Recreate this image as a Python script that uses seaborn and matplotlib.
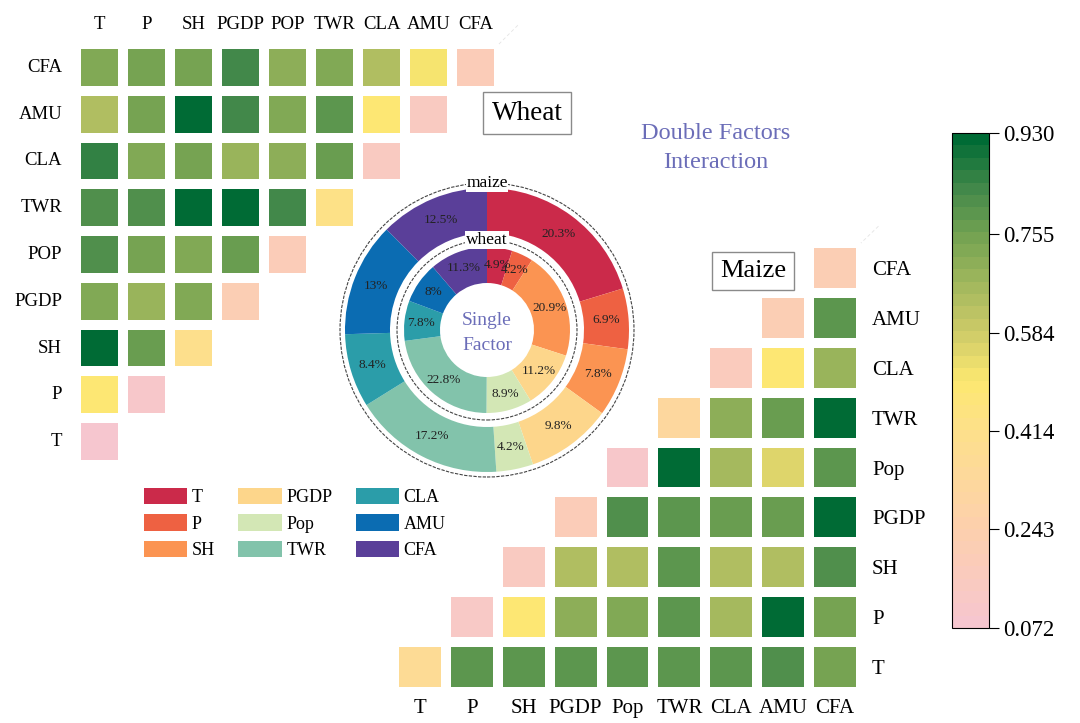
import numpy as np
import pandas as pd
import matplotlib
matplotlib.use('Agg')
import matplotlib.pyplot as plt
import seaborn as sns
from matplotlib.colors import LinearSegmentedColormap, Normalize
from matplotlib.patches import Patch, Circle

# ---- data ----
factors = ['T', 'P', 'SH', 'PGDP', 'POP', 'TWR', 'CLA', 'AMU', 'CFA']
factors_maize = ['T', 'P', 'SH', 'PGDP', 'Pop', 'TWR', 'CLA', 'AMU', 'CFA']
legend_names = ['T', 'P', 'SH', 'PGDP', 'Pop', 'TWR', 'CLA', 'AMU', 'CFA']

# wheat interaction q, rows top->bottom (CFA ... T), columns T ... up to diagonal
wheat_q = [
    [0.72, 0.74, 0.74, 0.84, 0.70, 0.72, 0.65, 0.52, 0.20],  # CFA
    [0.64, 0.74, 0.93, 0.84, 0.72, 0.78, 0.48, 0.14],        # AMU
    [0.86, 0.72, 0.74, 0.68, 0.70, 0.76, 0.14],              # CLA
    [0.82, 0.82, 0.92, 0.93, 0.84, 0.42],                    # TWR
    [0.82, 0.74, 0.72, 0.76, 0.20],                          # POP
    [0.72, 0.68, 0.72, 0.22],                                # PGDP
    [0.93, 0.76, 0.40],                                      # SH
    [0.50, 0.10],                                            # P
    [0.09],                                                  # T
]

# maize interaction q, rows top->bottom (CFA ... T), columns from diagonal ... CFA
maize_q = [
    [0.22],                                                  # CFA
    [0.22, 0.80],                                            # AMU
    [0.16, 0.50, 0.68],                                      # CLA
    [0.32, 0.70, 0.76, 0.92],                                # TWR
    [0.10, 0.93, 0.67, 0.55, 0.78],                          # Pop
    [0.20, 0.82, 0.80, 0.76, 0.76, 0.93],                    # PGDP
    [0.14, 0.64, 0.64, 0.80, 0.64, 0.64, 0.82],              # SH
    [0.12, 0.48, 0.70, 0.72, 0.80, 0.66, 0.92, 0.74],        # P
    [0.37, 0.80, 0.78, 0.80, 0.78, 0.78, 0.80, 0.82, 0.74],  # T
]

# single factor shares (%)
wheat_single = [4.9, 4.2, 20.9, 11.2, 8.9, 22.8, 7.8, 8, 11.3]
maize_single = [20.3, 6.9, 7.8, 9.8, 4.2, 17.2, 8.4, 13, 12.5]

factor_colors = ['#cb2a4a', '#ee6142', '#fb9452', '#fdd68b', '#d3e7b5',
                 '#82c3ab', '#2b9da9', '#0b6cb2', '#5a3f99']

cbar_ticks = [0.930, 0.755, 0.584, 0.414, 0.243, 0.072]
vmin, vmax = 0.072, 0.930

# ---- colormap ----
cmap_nodes = [0.072, 0.243, 0.414, 0.50, 0.584, 0.67, 0.755, 0.84, 0.93]
cmap_cols = ['#f6c6cf', '#fdd0ac', '#fde08a', '#fde870', '#cfcc68',
             '#a3b85e', '#75a352', '#44894a', '#006b35']
pos = [(v - vmin) / (vmax - vmin) for v in cmap_nodes]
cmap = LinearSegmentedColormap.from_list('q', list(zip(pos, cmap_cols)), N=40)

plt.rcParams['font.family'] = ['Liberation Serif', 'DejaVu Serif']

fig = plt.figure(figsize=(10.8, 7.23), dpi=100)
W, H = 1080, 723


def px_axes(x0, y0, w, h):
    return fig.add_axes([x0 / W, 1 - (y0 + h) / H, w / W, h / H])


# ---- wheat heatmap ----
wheat_rows = factors[::-1]
wheat_mat = np.full((9, 9), np.nan)
for i, row in enumerate(wheat_q):
    wheat_mat[i, :len(row)] = row
wheat_df = pd.DataFrame(wheat_mat, index=wheat_rows, columns=factors)

ax_w = px_axes(76, 44, 423, 421)
sns.heatmap(wheat_df, ax=ax_w, cmap=cmap, vmin=vmin, vmax=vmax, cbar=False,
            linewidths=5.8, linecolor='white')
ax_w.xaxis.tick_top()
ax_w.tick_params(length=0, labelsize=13.5)
ax_w.tick_params(axis='x', pad=8)
ax_w.tick_params(axis='y', pad=10)
ax_w.set_xticklabels(factors, rotation=0)
ax_w.set_yticklabels(wheat_rows, rotation=0)
ax_w.set_xlabel('')
ax_w.set_ylabel('')
ax_w.plot([9.4, 1.0], [-0.4, 8.0], ls=(0, (4, 3)), color='#e4e4e4', lw=0.6,
          clip_on=False, zorder=0)

# ---- maize heatmap ----
maize_rows = factors_maize[::-1]
maize_mat = np.full((9, 9), np.nan)
for i, row in enumerate(maize_q):
    maize_mat[i, 9 - len(row):] = row
maize_df = pd.DataFrame(maize_mat, index=maize_rows, columns=factors_maize)

ax_m = px_axes(394, 243, 467, 449)
sns.heatmap(maize_df, ax=ax_m, cmap=cmap, vmin=vmin, vmax=vmax, cbar=False,
            linewidths=6, linecolor='white')
ax_m.yaxis.tick_right()
ax_m.tick_params(length=0, labelsize=15)
ax_m.tick_params(axis='x', pad=5)
ax_m.tick_params(axis='y', pad=8)
ax_m.set_xticklabels(factors_maize, rotation=0)
ax_m.set_yticklabels(maize_rows, rotation=0)
ax_m.set_xlabel('')
ax_m.set_ylabel('')
ax_m.plot([0.7, 9.35], [8.3, -0.35], ls=(0, (4, 3)), color='#e4e4e4', lw=0.6,
          clip_on=False, zorder=0)

# ---- colorbar ----
cax = px_axes(952, 133, 37, 495)
sm = plt.cm.ScalarMappable(norm=Normalize(vmin, vmax), cmap=cmap)
cb = fig.colorbar(sm, cax=cax, ticks=cbar_ticks, format='%.3f')
cb.outline.set_linewidth(0.8)
cax.tick_params(labelsize=16.5, length=7, width=0.8, pad=3)

# ---- double donut ----
ax_p = px_axes(337, 180, 300, 300)
ax_p.pie(maize_single, radius=142, colors=factor_colors, startangle=90,
         counterclock=False, wedgeprops=dict(width=45, linewidth=0))
ax_p.pie(wheat_single, radius=83, colors=factor_colors, startangle=90,
         counterclock=False, wedgeprops=dict(width=36, linewidth=0))
ax_p.set_xlim(-150, 150)
ax_p.set_ylim(-150, 150)
ax_p.set_aspect('equal')
ax_p.axis('off')

for vals, rmid in [(maize_single, 119.5), (wheat_single, 66)]:
    total = sum(vals)
    cum = np.cumsum(vals) - np.array(vals) / 2
    for v, c in zip(vals, cum):
        ang = np.deg2rad(90 - 360 * c / total)
        ax_p.text(rmid * np.cos(ang), rmid * np.sin(ang), f'{v:g}%',
                  ha='center', va='center', fontsize=9.5, color='#222222')

for r, lab in [(147, 'maize'), (90, 'wheat')]:
    ax_p.add_patch(Circle((0, 0), r, fill=False, ls=(0, (3, 1.2)),
                          lw=0.8, ec='#444444'))
    ax_p.text(0, r, lab, ha='center', va='center', fontsize=12.5,
              bbox=dict(fc='white', ec='none', pad=0.5))

ax_p.text(0, -3, 'Single\nFactor', ha='center', va='center', fontsize=14,
          color='#6b6db8', linespacing=1.55)

# ---- titles ----
fig.text(716 / W, 1 - 148 / H, 'Double Factors\nInteraction', ha='center',
         va='center', fontsize=17.5, color='#6b6db8', linespacing=1.45)
fig.text(527 / W, 1 - 113 / H, 'Wheat', ha='center', va='center', fontsize=19.5,
         bbox=dict(fc='white', ec='#8a8a8a', lw=1, boxstyle='square,pad=0.3'))
fig.text(753 / W, 1 - 271 / H, 'Maize', ha='center', va='center', fontsize=19,
         bbox=dict(fc='white', ec='#8a8a8a', lw=1, boxstyle='square,pad=0.3'))

# ---- legend ----
handles = [Patch(fc=c, ec='none') for c in factor_colors]
fig.legend(handles, legend_names, ncol=3, loc='upper left',
           bbox_to_anchor=(144 / W, 1 - 488 / H), frameon=False, fontsize=13,
           handlelength=2.4, handleheight=1.0, handletextpad=0.25,
           columnspacing=1.3, labelspacing=0.45, borderpad=0, borderaxespad=0)

fig.savefig('out.png', dpi=100, facecolor='white')
